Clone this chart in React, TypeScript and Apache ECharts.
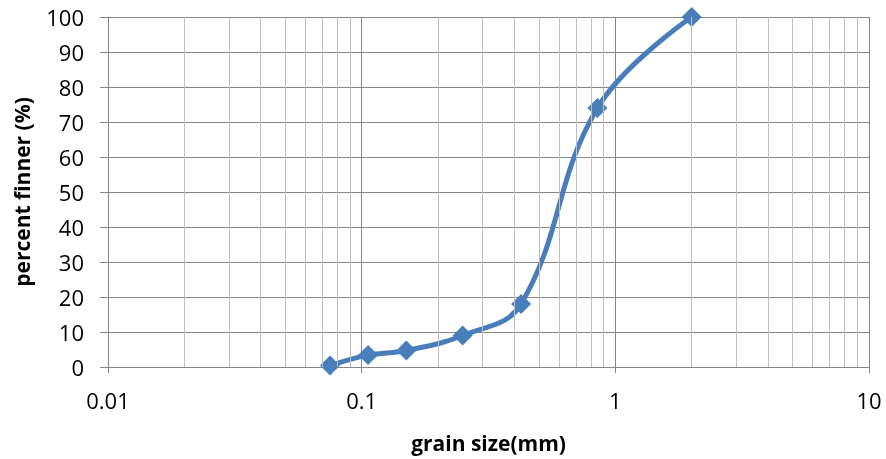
import React, { useEffect, useRef } from "react";
import * as echarts from "echarts";

const grainSize = [0.075, 0.106, 0.15, 0.25, 0.425, 0.85, 2];
const percentFiner = [0.4, 3.4, 4.7, 9, 18, 74, 100];
const minorGrid = [
  0.02, 0.03, 0.04, 0.05, 0.06, 0.07, 0.08, 0.09,
  0.2, 0.3, 0.4, 0.5, 0.6, 0.7, 0.8, 0.9,
  2, 3, 4, 5, 6, 7, 8, 9,
];
const xTitle = "grain size(mm)";
const yTitle = "percent finner (%)";

export default function App() {
  const ref = useRef<HTMLDivElement>(null);
  useEffect(() => {
    const chart = echarts.init(ref.current!, null, { renderer: "svg" });
    const font = "'Open Sans', 'Liberation Sans', sans-serif";
    chart.setOption({
      animation: false,
      grid: { left: 108, right: 17, top: 17, bottom: 92 },
      xAxis: {
        type: "log",
        min: 0.01,
        max: 10,
        logBase: 10,
        name: xTitle,
        nameLocation: "middle",
        nameGap: 65,
        nameTextStyle: { fontFamily: font, fontWeight: "bold", fontSize: 21, color: "#000" },
        axisLine: { show: true, lineStyle: { color: "#868686", width: 1 } },
        axisTick: { show: true, length: 6, lineStyle: { color: "#868686" } },
        axisLabel: {
          fontFamily: font,
          fontSize: 22,
          color: "#000",
          margin: 22,
          formatter: (v: number) => String(v),
        },
        splitLine: { show: true, lineStyle: { color: "#868686", width: 1 } },
        minorTick: { show: false },
        minorSplitLine: { show: false },
      },
      yAxis: {
        type: "value",
        min: 0,
        max: 100,
        interval: 10,
        name: yTitle,
        nameLocation: "middle",
        nameGap: 76,
        nameTextStyle: { fontFamily: font, fontWeight: "bold", fontSize: 21, color: "#000" },
        axisLine: { show: true, lineStyle: { color: "#868686", width: 1 } },
        axisTick: { show: true, length: 8, lineStyle: { color: "#868686" } },
        axisLabel: { fontFamily: font, fontSize: 22, color: "#000", margin: 24 },
        splitLine: { show: true, lineStyle: { color: "#868686", width: 1 } },
      },
      series: [
        {
          type: "line",
          data: [],
          z: 1,
          silent: true,
          markLine: {
            silent: true,
            symbol: "none",
            label: { show: false },
            lineStyle: { color: "#bfbfbf", width: 1, type: "solid" },
            data: minorGrid.map((v) => ({ xAxis: v })),
          },
        },
        {
          type: "line",
          z: 3,
          data: grainSize.map((x, i) => [x, percentFiner[i]]),
          smooth: 0.4,
          symbol: "diamond",
          symbolSize: 20,
          lineStyle: { color: "#4a7ebb", width: 5 },
          itemStyle: { color: "#4a7ebb", borderWidth: 0, borderColor: "#4a7ebb" },
        },
      ],
    });
    return () => chart.dispose();
  }, []);
  return (
    <div
      ref={ref}
      style={{ position: "fixed", left: 0, top: 0, width: 886, height: 459 }}
    />
  );
}
